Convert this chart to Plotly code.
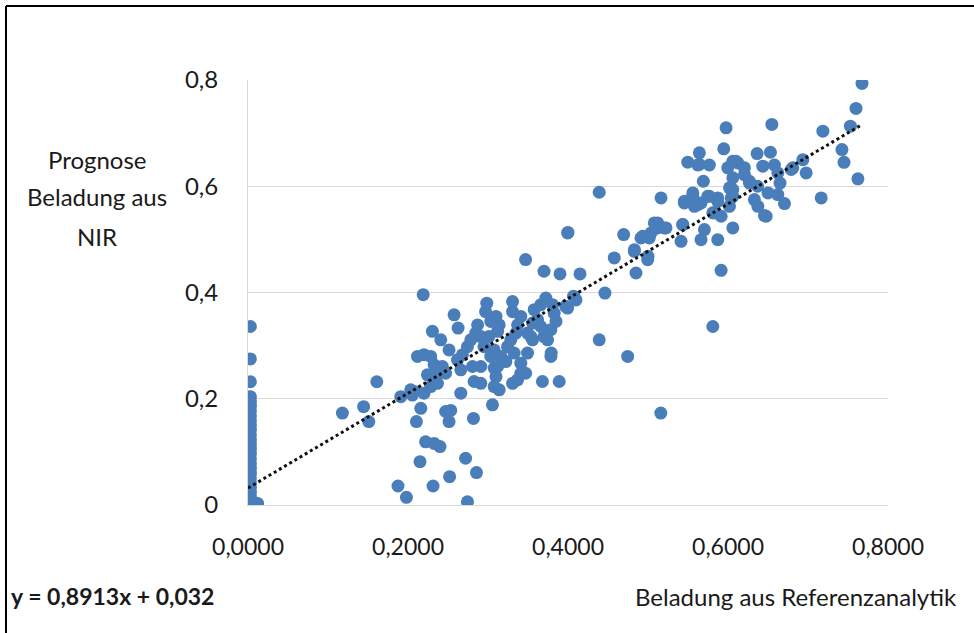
import plotly.graph_objects as go

# Referenzanalytik (x) vs. NIR-Prognose (y)
col_y = [0.336, 0.275, 0.232, 0.204, 0.195, 0.186, 0.177, 0.168, 0.159, 0.15, 0.141, 0.132,
         0.123, 0.114, 0.105, 0.096, 0.087, 0.078, 0.069, 0.06, 0.051, 0.042, 0.033, 0.024,
         0.015, 0.006, 0.0]
col_x = [0.003] * len(col_y)
extra_zero_x = [0.009, 0.006, 0.012]
extra_zero_y = [0.004, 0.002, 0.003]

pts = [
    (0.118, 0.173), (0.1445, 0.185), (0.151, 0.157), (0.161, 0.232), (0.2055, 0.207),
    (0.2105, 0.157), (0.216, 0.182), (0.222, 0.119), (0.2326, 0.116), (0.240, 0.11),
    (0.215, 0.0816), (0.1875, 0.0358), (0.198, 0.0145), (0.2313, 0.0358), (0.252, 0.0534),
    (0.272, 0.088), (0.2856, 0.061), (0.2743, 0.006), (0.247, 0.176), (0.2534, 0.178),
    (0.2513, 0.157), (0.2818, 0.163), (0.3056, 0.1885),
    (0.2985, 0.380), (0.297, 0.364), (0.3035, 0.3455), (0.31, 0.355), (0.314, 0.339),
    (0.312, 0.327), (0.301, 0.317), (0.291, 0.317), (0.295, 0.298), (0.3077, 0.292),
    (0.3035, 0.2796), (0.316, 0.2796), (0.312, 0.2607), (0.3077, 0.2577), (0.3223, 0.270),
    (0.3307, 0.383), (0.3307, 0.364), (0.341, 0.355), (0.337, 0.339), (0.335, 0.3236),
    (0.3285, 0.311), (0.3244, 0.298), (0.3327, 0.286), (0.341, 0.267), (0.3494, 0.286),
    (0.3557, 0.311), (0.3577, 0.3676), (0.366, 0.377), (0.3723, 0.3896), (0.3807, 0.377),
    (0.385, 0.3455), (0.3786, 0.33), (0.370, 0.317), (0.3745, 0.311), (0.3786, 0.2796),
    (0.397, 0.374), (0.41, 0.386), (0.3827, 0.361), (0.362, 0.349), (0.3557, 0.3425),
    (0.3494, 0.3236), (0.347, 0.248), (0.337, 0.2356), (0.3307, 0.229), (0.368, 0.2325),
    (0.389, 0.2325), (0.3077, 0.223), (0.314, 0.2168), (0.291, 0.229), (0.2826, 0.2325),
    (0.266, 0.2105), (0.2284, 0.223), (0.2034, 0.2168), (0.191, 0.204), (0.287, 0.339),
    (0.2847, 0.3236), (0.2785, 0.311), (0.2743, 0.298), (0.268, 0.2827), (0.2618, 0.2733),
    (0.243, 0.2607), (0.247, 0.248), (0.2347, 0.2418), (0.2243, 0.245), (0.2368, 0.229),
    (0.22, 0.2105), (0.2075, 0.2137), (0.2118, 0.2796), (0.22, 0.283), (0.2284, 0.2796),
    (0.2326, 0.264), (0.2513, 0.292), (0.2305, 0.327), (0.241, 0.311), (0.2576, 0.358),
    (0.2626, 0.333), (0.219, 0.396), (0.347, 0.462), (0.370, 0.44), (0.390, 0.435),
    (0.415, 0.435), (0.407, 0.393), (0.2806, 0.2607), (0.266, 0.2545), (0.291, 0.2607),
    (0.31, 0.2418), (0.341, 0.248), (0.379, 0.286), (0.366, 0.336), (0.3536, 0.317),
    (0.4, 0.513),
    (0.7675, 0.7936), (0.760, 0.7465), (0.753, 0.713), (0.7424, 0.669), (0.745, 0.645),
    (0.7624, 0.614), (0.7186, 0.7037), (0.7165, 0.578), (0.6936, 0.650), (0.6977, 0.625),
    (0.681, 0.6346), (0.6548, 0.7163), (0.653, 0.664), (0.6364, 0.6616), (0.6435, 0.6377),
    (0.658, 0.64), (0.6623, 0.625), (0.665, 0.606), (0.6706, 0.5674), (0.6623, 0.5843),
    (0.65, 0.5875), (0.6456, 0.5448), (0.633, 0.575), (0.637, 0.6), (0.6268, 0.606),
    (0.6205, 0.6346), (0.6123, 0.644), (0.606, 0.647), (0.5997, 0.6346), (0.5976, 0.710),
    (0.5947, 0.6705), (0.6019, 0.597), (0.606, 0.581), (0.6018, 0.5623), (0.606, 0.5216),
    (0.5914, 0.5435), (0.5872, 0.4995), (0.5914, 0.4417), (0.581, 0.336), (0.5872, 0.578),
    (0.5767, 0.581), (0.5663, 0.5687), (0.556, 0.581), (0.5454, 0.5687), (0.558, 0.5623),
    (0.583, 0.55), (0.5692, 0.6094), (0.5497, 0.6453), (0.5642, 0.663), (0.5642, 0.641),
    (0.5767, 0.64), (0.5705, 0.5184), (0.5663, 0.4995), (0.5413, 0.4963), (0.5434, 0.5278),
    (0.5163, 0.578), (0.5204, 0.5216), (0.5121, 0.531), (0.5038, 0.5122), (0.4934, 0.5058),
    (0.4829, 0.4775), (0.485, 0.4367), (0.4996, 0.4618), (0.4696, 0.509), (0.4578, 0.465),
    (0.4462, 0.399), (0.439, 0.5887), (0.3995, 0.5122), (0.439, 0.311), (0.4746, 0.2796),
    (0.3995, 0.3707), (0.516, 0.173),
    (0.483, 0.4807), (0.4912, 0.5027), (0.5016, 0.5027), (0.5079, 0.531), (0.512, 0.5215),
    (0.5225, 0.5215), (0.5, 0.468), (0.5434, 0.528), (0.581, 0.55), (0.5455, 0.5717),
    (0.556, 0.5875), (0.5622, 0.5655), (0.5747, 0.581), (0.5872, 0.5717), (0.5622, 0.64),
    (0.610, 0.647), (0.606, 0.6158), (0.606, 0.5938), (0.604, 0.578), (0.6205, 0.622),
    (0.6268, 0.6094), (0.679, 0.6315), (0.6373, 0.5623), (0.6477, 0.5435),
]
ref_x = col_x + extra_zero_x + [p[0] for p in pts]
nir_y = col_y + extra_zero_y + [p[1] for p in pts]

# Linear trend
slope, intercept = 0.8913, 0.032
trend_x = [0.0, 0.765]
trend_y = [slope * v + intercept for v in trend_x]

x_ticks = [0.0, 0.2, 0.4, 0.6, 0.8]
x_ticktext = ["0,0000", "0,2000", "0,4000", "0,6000", "0,8000"]
y_ticks = [0.0, 0.2, 0.4, 0.6, 0.8]
y_ticktext = ["0", "0,2", "0,4", "0,6", "0,8"]

FONT = "Lato"
TXT = "#1a1a1a"

fig = go.Figure()
fig.add_trace(go.Scatter(x=ref_x, y=nir_y, mode="markers",
                         marker=dict(size=13, color="#4a7ebb", line=dict(width=0)),
                         showlegend=False, hoverinfo="x+y"))
fig.add_trace(go.Scatter(x=trend_x, y=trend_y, mode="lines",
                         line=dict(color="#111111", width=3, dash="dot"),
                         showlegend=False, hoverinfo="skip"))

# plot area: x 248..888 px, y 80..505 px
L, R, T, B = 248, 86, 80, 128
W, H = 974, 633
pw, ph = W - L - R, H - T - B


def px(xp):
    return (xp - L) / pw


def py(yp):
    return (H - B - yp) / ph


fig.update_layout(
    width=W, height=H,
    margin=dict(l=L, r=R, t=T, b=B, pad=0),
    paper_bgcolor="white", plot_bgcolor="white",
    font=dict(family=FONT, size=24, color=TXT),
    xaxis=dict(range=[0, 0.8], tickvals=x_ticks, ticktext=x_ticktext,
               showgrid=False, zeroline=False, showline=True, linecolor="#d9d9d9",
               linewidth=1, ticks="", ticklabelstandoff=21,
               tickfont=dict(family=FONT, size=23, color=TXT)),
    yaxis=dict(range=[0, 0.8], tickvals=y_ticks, ticktext=y_ticktext,
               showgrid=True, gridcolor="#d9d9d9", gridwidth=1, zeroline=False,
               showline=True, linecolor="#d9d9d9", linewidth=1, ticks="",
               ticklabelstandoff=24, tickfont=dict(family=FONT, size=24, color=TXT)),
    shapes=[
        dict(type="line", xref="paper", yref="paper", x0=px(6), x1=px(980), y0=py(6), y1=py(6),
             line=dict(color="black", width=2)),
        dict(type="line", xref="paper", yref="paper", x0=px(6), x1=px(6), y0=py(6), y1=py(640),
             line=dict(color="black", width=2)),
    ],
    annotations=[
        dict(text="Prognose", xref="paper", yref="paper", x=px(97), y=py(159),
             showarrow=False, xanchor="center", yanchor="middle", font=dict(size=24)),
        dict(text="Beladung aus", xref="paper", yref="paper", x=px(97), y=py(196),
             showarrow=False, xanchor="center", yanchor="middle", font=dict(size=24)),
        dict(text="NIR", xref="paper", yref="paper", x=px(97), y=py(236),
             showarrow=False, xanchor="center", yanchor="middle", font=dict(size=24)),
        dict(text="Beladung aus Referenzanalytik", xref="paper", yref="paper",
             x=px(959), y=py(596), showarrow=False, xanchor="right", yanchor="middle",
             font=dict(size=24)),
        dict(text="<b>y = 0,8913x + 0,032</b>", xref="paper", yref="paper",
             x=px(9), y=py(596), showarrow=False, xanchor="left", yanchor="middle",
             font=dict(size=23)),
    ],
)

fig.write_html("out.html")
